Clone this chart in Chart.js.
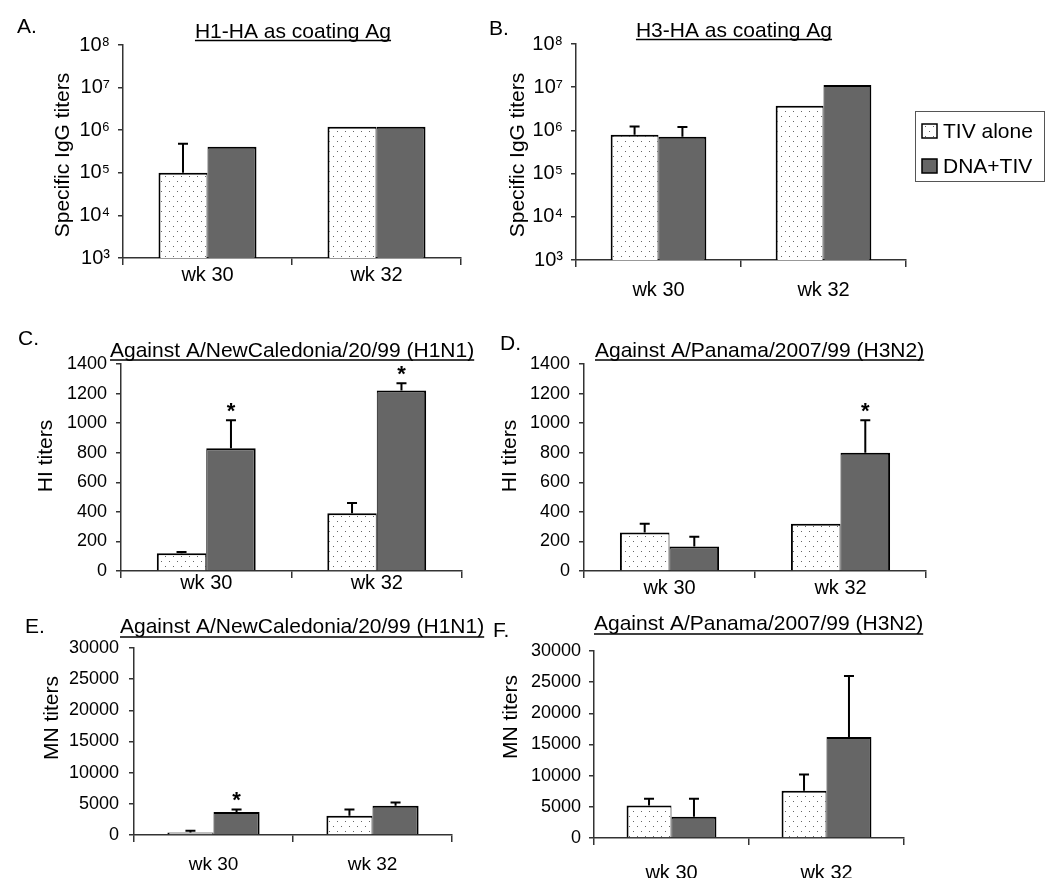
<!DOCTYPE html>
<html>
<head>
<meta charset="utf-8">
<script src="https://cdn.jsdelivr.net/npm/chart.js@4.4.1/dist/chart.umd.min.js"></script>
<style>
  html, body { margin: 0; padding: 0; background: #fff; }
  #wrap { position: relative; width: 1050px; height: 896px; }
  #wrap canvas { position: absolute; left: 0; top: 0; }
</style>
</head>
<body>
<div id="wrap">
  <canvas id="cA" width="1050" height="896"></canvas>
  <canvas id="cB" width="1050" height="896"></canvas>
  <canvas id="cC" width="1050" height="896"></canvas>
  <canvas id="cD" width="1050" height="896"></canvas>
  <canvas id="cE" width="1050" height="896"></canvas>
  <canvas id="cF" width="1050" height="896"></canvas>
</div>
<script>
const weeks = ['wk 30', 'wk 32'];
const groups = ['TIV alone', 'DNA+TIV'];

// A - IgG, H1-HA coating
const h1IggTiv = [1.0e5, 1.2e6];
const h1IggTivErr = [4.8e5, null];
const h1IggDna = [4.1e5, 1.2e6];
const h1IggDnaErr = [null, null];

// B - IgG, H3-HA coating
const h3IggTiv = [7.9e5, 3.7e6];
const h3IggTivErr = [1.23e6, null];
const h3IggDna = [7.1e5, 1.12e7];
const h3IggDnaErr = [1.2e6, null];

// C - HI, NewCaledonia
const h1HiTiv = [120, 390];
const h1HiTivErr = [128, 460];
const h1HiDna = [830, 1220];
const h1HiDnaErr = [1020, 1270];
const h1HiDnaStar = [true, true];

// D - HI, Panama
const h3HiTiv = [260, 320];
const h3HiTivErr = [320, null];
const h3HiDna = [165, 800];
const h3HiDnaErr = [232, 1020];
const h3HiDnaStar = [false, true];

// E - MN, NewCaledonia
const h1MnTiv = [400, 3100];
const h1MnTivErr = [700, 4100];
const h1MnDna = [3700, 4700];
const h1MnDnaErr = [4100, 5200];
const h1MnDnaStar = [true, false];

// F - MN, Panama
const h3MnTiv = [5200, 7600];
const h3MnTivErr = [6300, 10200];
const h3MnDna = [3400, 16200];
const h3MnDnaErr = [6300, 26000];

const logTicks = [1e3, 1e4, 1e5, 1e6, 1e7, 1e8];
const hiTicks = [0, 200, 400, 600, 800, 1000, 1200, 1400];
const mnTicks = [0, 5000, 10000, 15000, 20000, 25000, 30000];

const FONT = "'Liberation Sans', Arial, sans-serif";
const AXIS = '#333';
const GRAY = '#666';
const SUP = {'3':'\u00b3','4':'\u2074','5':'\u2075','6':'\u2076','7':'\u2077','8':'\u2078'};

function dotPattern() {
  const c = document.createElement('canvas'); c.width = 8; c.height = 10;
  const g = c.getContext('2d');
  g.fillStyle = '#fff'; g.fillRect(0, 0, 8, 10);
  g.fillStyle = '#666'; g.fillRect(1, 1, 1, 1); g.fillRect(5, 6, 1, 1);
  return g.createPattern(c, 'repeat');
}
const dots = dotPattern();

const errorBars = {
  id: 'errorBars',
  afterDatasetsDraw(chart) {
    const ctx = chart.ctx, y = chart.scales.y;
    ctx.save();
    ctx.strokeStyle = '#000'; ctx.lineWidth = 2;
    chart.data.datasets.forEach((ds, i) => {
      chart.getDatasetMeta(i).data.forEach((bar, j) => {
        const e = ds.errTop && ds.errTop[j];
        const top = e != null ? y.getPixelForValue(e) : bar.y;
        if (e != null) {
          ctx.beginPath();
          ctx.moveTo(bar.x, bar.y); ctx.lineTo(bar.x, top);
          ctx.moveTo(bar.x - 5, top); ctx.lineTo(bar.x + 5, top);
          ctx.stroke();
        }
        if (ds.stars && ds.stars[j]) {
          ctx.fillStyle = '#000'; ctx.font = 'bold 22px ' + FONT;
          ctx.textAlign = 'center'; ctx.textBaseline = 'alphabetic';
          ctx.fillText('*', bar.x, top - 2);
        }
      });
    });
    ctx.restore();
  }
};

const panelText = {
  id: 'panelText',
  afterDraw(chart, args, o) {
    if (!o || !o.title) return;
    const ctx = chart.ctx;
    ctx.save();
    ctx.fillStyle = '#000'; ctx.strokeStyle = '#000';
    ctx.font = '21px ' + FONT; ctx.textBaseline = 'alphabetic';
    ctx.textAlign = 'left';
    ctx.fillText(o.letter, o.lx, o.ly);
    const w = ctx.measureText(o.title).width;
    const x0 = o.talign === 'center' ? o.tx - w / 2 : o.tx;
    ctx.fillText(o.title, x0, o.ty);
    ctx.lineWidth = 1.5;
    ctx.beginPath(); ctx.moveTo(x0, o.uy); ctx.lineTo(x0 + w, o.uy); ctx.stroke();
    ctx.translate(o.yx, o.yy); ctx.rotate(-Math.PI / 2);
    ctx.textAlign = 'center'; ctx.textBaseline = 'middle';
    ctx.fillText(o.yTitle, 0, 0);
    ctx.restore();
  }
};

const boxLegend = {
  id: 'boxLegend',
  afterDraw(chart, args, o) {
    if (!o || !o.w) return;
    const ctx = chart.ctx;
    ctx.save();
    ctx.strokeStyle = '#555'; ctx.lineWidth = 1;
    ctx.strokeRect(o.x + 0.5, o.y + 0.5, o.w, o.h);
    ctx.font = '21px ' + FONT; ctx.textBaseline = 'middle'; ctx.textAlign = 'left';
    chart.data.datasets.forEach((ds, i) => {
      const cy = o.y + 20 + i * 35;
      ctx.fillStyle = ds.backgroundColor;
      ctx.fillRect(o.x + 7, cy - 7, 15, 14);
      ctx.strokeStyle = '#000'; ctx.lineWidth = 1.5;
      ctx.strokeRect(o.x + 7, cy - 7, 15, 14);
      ctx.fillStyle = '#000';
      ctx.fillText(ds.label, o.x + 28, cy + 1);
    });
    ctx.restore();
  }
};

function panel(id, o) {
  const ctx = document.getElementById(id).getContext('2d');
  const log = o.ticks === logTicks;
  return new Chart(ctx, {
    type: 'bar',
    data: {
      labels: weeks,
      datasets: [
        { label: groups[0], data: o.tiv, errTop: o.tivErr, stars: null, backgroundColor: dots,
          borderColor: '#000', borderWidth: {top: 2, left: 2, right: 1, bottom: 0} },
        { label: groups[1], data: o.dna, errTop: o.dnaErr, stars: o.dnaStar, backgroundColor: GRAY,
          borderColor: '#000', borderWidth: {top: 2, left: 1, right: 2, bottom: 0} }
      ]
    },
    options: {
      responsive: false, animation: false, events: [],
      layout: { padding: { left: o.box.L - 80, top: o.box.T, right: 1050 - o.box.R, bottom: 896 - o.box.B - 40 } },
      datasets: { bar: { categoryPercentage: 0.58, barPercentage: 1 } },
      plugins: { legend: { display: false }, tooltip: { enabled: false }, panelText: o.text, boxLegend: o.legend || {} },
      scales: {
        x: {
          grid: { offset: true, drawOnChartArea: false, tickLength: 7, color: AXIS, lineWidth: 1.5 },
          border: { color: AXIS, width: 1.5 },
          ticks: { color: '#000', font: { family: FONT, size: o.xFont }, padding: o.xPad },
          afterFit: s => { s.height = 40; }
        },
        y: {
          type: log ? 'logarithmic' : 'linear',
          min: o.ticks[0], max: o.ticks[o.ticks.length - 1],
          afterBuildTicks: s => { s.ticks = o.ticks.map(v => ({ value: v })); },
          grid: { drawOnChartArea: false, tickLength: 5, color: AXIS, lineWidth: 1.5 },
          border: { color: AXIS, width: 1.5 },
          ticks: {
            color: '#000', font: { family: FONT, size: o.yFont }, padding: o.yPad,
            callback: v => log ? '10' + SUP[String(Math.round(Math.log10(v)))] : String(v)
          },
          afterFit: s => { s.width = 80; }
        }
      }
    },
    plugins: [errorBars, panelText, boxLegend]
  });
}

panel('cA', { tiv: h1IggTiv, tivErr: h1IggTivErr, dna: h1IggDna, dnaErr: h1IggDnaErr, ticks: logTicks,
  box: {L: 123, R: 461, T: 45, B: 258}, xFont: 20, xPad: -2, yFont: 20, yPad: 8,
  text: { letter: 'A.', lx: 17, ly: 33, title: 'H1-HA as coating Ag', tx: 293, ty: 38, talign: 'center', uy: 40.5,
          yTitle: 'Specific IgG titers', yx: 63, yy: 155 } });

panel('cB', { tiv: h3IggTiv, tivErr: h3IggTivErr, dna: h3IggDna, dnaErr: h3IggDnaErr, ticks: logTicks,
  box: {L: 576, R: 906, T: 44, B: 260}, xFont: 20, xPad: 11, yFont: 20, yPad: 8,
  legend: { x: 915, y: 111, w: 129, h: 70 },
  text: { letter: 'B.', lx: 489, ly: 35, title: 'H3-HA as coating Ag', tx: 734, ty: 37, talign: 'center', uy: 39.5,
          yTitle: 'Specific IgG titers', yx: 518, yy: 155 } });

panel('cC', { tiv: h1HiTiv, tivErr: h1HiTivErr, dna: h1HiDna, dnaErr: h1HiDnaErr, dnaStar: h1HiDnaStar, ticks: hiTicks,
  box: {L: 121, R: 462, T: 364, B: 571}, xFont: 20, xPad: -7, yFont: 18, yPad: 9,
  text: { letter: 'C.', lx: 18, ly: 345, title: 'Against A/NewCaledonia/20/99 (H1N1)', tx: 110, ty: 357, talign: 'left', uy: 360,
          yTitle: 'HI titers', yx: 46, yy: 456 } });

panel('cD', { tiv: h3HiTiv, tivErr: h3HiTivErr, dna: h3HiDna, dnaErr: h3HiDnaErr, dnaStar: h3HiDnaStar, ticks: hiTicks,
  box: {L: 584, R: 926, T: 364, B: 571}, xFont: 20, xPad: -2, yFont: 18, yPad: 9,
  text: { letter: 'D.', lx: 500, ly: 350, title: 'Against A/Panama/2007/99 (H3N2)', tx: 595, ty: 357, talign: 'left', uy: 360,
          yTitle: 'HI titers', yx: 510, yy: 456 } });

panel('cE', { tiv: h1MnTiv, tivErr: h1MnTivErr, dna: h1MnDna, dnaErr: h1MnDnaErr, dnaStar: h1MnDnaStar, ticks: mnTicks,
  box: {L: 134, R: 452, T: 648, B: 835}, xFont: 19, xPad: 11, yFont: 18, yPad: 10,
  text: { letter: 'E.', lx: 25, ly: 633, title: 'Against A/NewCaledonia/20/99 (H1N1)', tx: 120, ty: 633, talign: 'left', uy: 637,
          yTitle: 'MN titers', yx: 52, yy: 718 } });

panel('cF', { tiv: h3MnTiv, tivErr: h3MnTivErr, dna: h3MnDna, dnaErr: h3MnDnaErr, ticks: mnTicks,
  box: {L: 594, R: 904, T: 651, B: 838}, xFont: 20, xPad: 16, yFont: 18, yPad: 8,
  text: { letter: 'F.', lx: 493, ly: 637, title: 'Against A/Panama/2007/99 (H3N2)', tx: 594, ty: 630, talign: 'left', uy: 634,
          yTitle: 'MN titers', yx: 511, yy: 717 } });
</script>
</body>
</html>
